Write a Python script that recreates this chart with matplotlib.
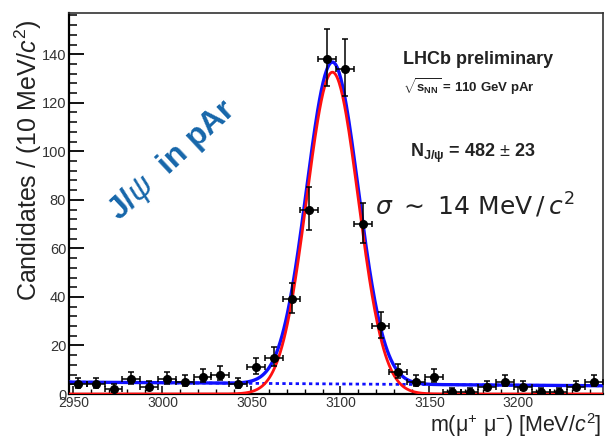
import numpy as np
import matplotlib
matplotlib.use("Agg")
import matplotlib.pyplot as plt
from matplotlib.ticker import MultipleLocator

plt.rcParams["font.family"] = ["Liberation Sans", "DejaVu Sans"]
plt.rcParams["mathtext.fontset"] = "custom"
plt.rcParams["mathtext.rm"] = "Liberation Sans"
plt.rcParams["mathtext.it"] = "Liberation Sans:italic"
plt.rcParams["mathtext.bf"] = "Liberation Sans:bold"

# dimuon mass histogram, 10 MeV bins
bin_centers = [2952.5, 2962.5, 2972.5, 2982.5, 2992.5, 3002.5, 3012.5, 3022.5,
               3032.5, 3042.5, 3052.5, 3062.5, 3072.5, 3082.5, 3092.5, 3102.5,
               3112.5, 3122.5, 3132.5, 3142.5, 3152.5, 3162.5, 3172.5, 3182.5,
               3192.5, 3202.5, 3212.5, 3222.5, 3232.5, 3242.5]
counts = [4, 4, 2, 6, 3, 6, 5, 7, 8, 4, 11, 15, 39, 76, 138, 134,
          70, 28, 9, 5, 7, 1, 1, 3, 5, 3, 1, 1, 3, 5]
bin_width = 10.0

# fit result
n_sig = 482
mean = 3095.5
sigma = 14.5
bkg_left = 4.9
bkg_right = 3.4

x_lo, x_hi = 2947.5, 3247.5

counts = np.array(counts, dtype=float)
err_up = np.sqrt(counts + 0.25) + 0.5
err_dn = np.sqrt(counts + 0.25) - 0.5

xs = np.linspace(x_lo, x_hi, 600)
sig = n_sig * bin_width / (np.sqrt(2 * np.pi) * sigma) * np.exp(-0.5 * ((xs - mean) / sigma) ** 2)
bkg = bkg_left + (bkg_right - bkg_left) * (xs - x_lo) / (x_hi - x_lo)

fig = plt.figure(figsize=(6.05, 4.38), dpi=100)
ax = fig.add_axes([69 / 605, 1 - 394 / 438, (603 - 69) / 605, (394 - 13) / 438])

ax.plot(xs, bkg, color="#1010ff", lw=2.0, ls=(0, (1.2, 1.2)), zorder=2)
ax.plot(xs, sig + bkg, color="#1010ff", lw=2.4, zorder=3)
ax.plot(xs, sig, color="#ff1010", lw=2.0, zorder=4)
ax.errorbar(bin_centers, counts, xerr=bin_width / 2, yerr=[err_dn, err_up],
            fmt="o", color="black", ms=5.5, elinewidth=1.1, capsize=2.2,
            capthick=1.1, zorder=5)

ax.set_xlim(x_lo, x_hi)
ax.set_ylim(0, 157)
ax.xaxis.set_major_locator(MultipleLocator(50))
ax.xaxis.set_minor_locator(MultipleLocator(10))
ax.yaxis.set_major_locator(MultipleLocator(20))
ax.yaxis.set_minor_locator(MultipleLocator(4))
ax.tick_params(axis="y", which="major", direction="in", length=11, width=1.3,
               labelsize=10.5, pad=2, labelcolor="#333333")
ax.tick_params(axis="y", which="minor", direction="in", length=6, width=1.1)
ax.tick_params(axis="x", which="major", direction="in", length=6, width=1.1,
               labelsize=10, pad=1.5, labelcolor="#333333")
ax.tick_params(axis="x", which="minor", direction="in", length=3.5, width=1.0)
for s in ax.spines.values():
    s.set_linewidth(1.2)
    s.set_color("#333333")
ax.spines["left"].set_color("black")
ax.spines["left"].set_linewidth(1.6)
ax.spines["bottom"].set_color("black")
ax.spines["bottom"].set_linewidth(1.6)

fig.text(28 / 605, 1 - 160 / 438, r"Candidates / (10 MeV/$\mathit{c}^{2}$)",
         rotation=90, ha="center", va="center", fontsize=18, color="#222222")
fig.text(601 / 605, 1 - 432 / 438, r"m($\mathrm{\mu^{+}\ \mu^{-}}$) [MeV/$\mathit{c}^{2}$]",
         ha="right", va="baseline", fontsize=15.5, color="#222222")

fig.text(403 / 605, 1 - 60 / 438, "LHCb preliminary", ha="left", va="center",
         fontsize=13, fontweight="bold", color="#222222")
fig.text(403 / 605, 1 - 87 / 438, r"$\sqrt{\mathbf{s_{NN}}}$" + " = 110 GeV pAr",
         ha="left", va="center", fontsize=9.5, fontweight="bold", color="#222222")
fig.text(410 / 605, 1 - 153 / 438, r"N$_{\mathbf{J/\psi}}$" + r" = 482 $\pm$ 23",
         ha="left", va="center", fontsize=13, fontweight="bold", color="#222222")
fig.text(375 / 605, 1 - 206 / 438, r"$\sigma\ \sim\ 14\ \mathrm{MeV}\,/\,c^2$",
         ha="left", va="center", fontsize=18, color="#222222",
         math_fontfamily="dejavusans")
fig.text(173 / 605, 1 - 160 / 438, r"J/$\psi$  in pAr", rotation=43,
         ha="center", va="center", fontsize=23, fontweight="bold",
         color="#1666aa", rotation_mode="anchor")

fig.savefig("out.png", dpi=100)
